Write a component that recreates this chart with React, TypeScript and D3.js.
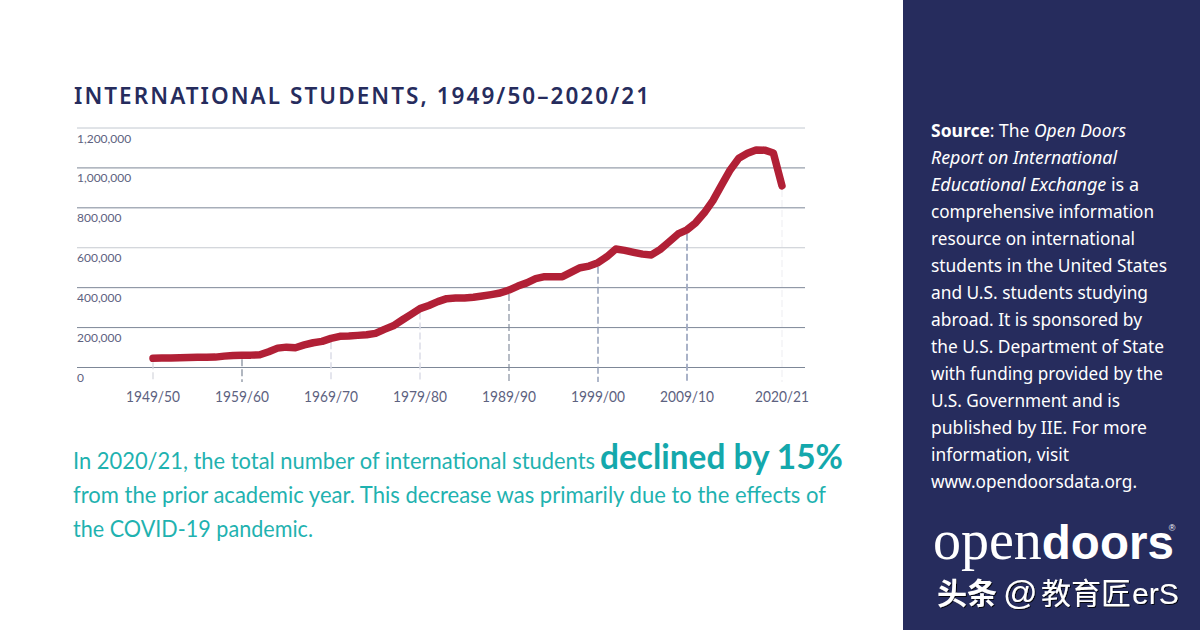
import React from "react";
import * as d3 from "d3";

const years = d3.range(1949, 2021);
const students = [
  46000, 47000, 48000, 49000, 50000, 51000, 51500, 52000, 57000, 60000,
  61000, 62000, 64000, 79000, 97000, 102000, 99000, 113000, 124000, 131000,
  146000, 156000, 158000, 161000, 164000, 171000, 191000, 209000, 238000, 266000,
  295000, 311000, 330000, 345000, 348000, 348000, 352000, 358000, 365000, 373000,
  388000, 408000, 424000, 445000, 455000, 455000, 455000, 478000, 500000, 508000,
  525000, 555000, 594000, 587000, 577000, 568000, 564000, 592000, 630000, 669000,
  690000, 725000, 775000, 836000, 914000, 990000, 1048000, 1073000, 1090000, 1089000,
  1075000, 910000,
];
const yTicks = [0, 200000, 400000, 600000, 800000, 1000000, 1200000];
const gridColors = ["#7d8797", "#7d8797", "#7d8797", "#c6cad0", "#7d8797", "#7d8797", "#c2c8d0"];
const xTickYears = [1949, 1959, 1969, 1979, 1989, 1999, 2009, 2020];
const xTickLabels = ["1949/50", "1959/60", "1969/70", "1979/80", "1989/90", "1999/00", "2009/10", "2020/21"];
const dropColors = ["#d4d6dc", "#7d8797", "#dcdde8", "#dcdde8", "#7d8797", "#8e9ab4", "#a0aac2", "#f0f0f4"];
const dropWidths = [1.2, 1.2, 1.5, 1.5, 1.1, 1.4, 1.8, 1.2];
const titleText = "INTERNATIONAL STUDENTS, 1949/50–2020/21";
const sidebarLines: [string, string, string, string][] = [
  ["Source", ": The ", "Open Doors", ""],
  ["", "", "Report on International", ""],
  ["", "", "Educational Exchange", " is a"],
  ["", "comprehensive information", "", ""],
  ["", "resource on international", "", ""],
  ["", "students in the United States", "", ""],
  ["", "and U.S. students studying", "", ""],
  ["", "abroad. It is sponsored by", "", ""],
  ["", "the U.S. Department of State", "", ""],
  ["", "with funding provided by the", "", ""],
  ["", "U.S. Government and is", "", ""],
  ["", "published by IIE. For more", "", ""],
  ["", "information, visit", "", ""],
  ["", "www.opendoorsdata.org.", "", ""],
];
const sidebarWidths = [195, 186, 208, 223, 204, 236, 217, 211, 233, 232, 189, 216, 138, 206];
const noteLine1 = "In 2020/21, the total number of international students";
const noteEmphasis = "declined by 15%";
const noteLine2 = "from the prior academic year. This decrease was primarily due to the effects of";
const noteLine3 = "the COVID-19 pandemic.";

const W = 1200;
const H = 630;
const x = d3.scaleLinear().domain([1949, 2009, 2020]).range([153, 687, 782]);
const y = d3.scaleLinear().domain([0, 1200000]).range([367.5, 128]);
const line = d3
  .line<number>()
  .x((_, i) => x(years[i]))
  .y((d) => y(d));
const labelFont = "Lato, 'Noto Sans', sans-serif";
const bodyFont = "'Noto Sans', 'Open Sans', sans-serif";

export default function App() {
  return (
    <div style={{ position: "absolute", left: 0, top: 0, width: W, height: H, overflow: "hidden" }}>
      <svg width={W} height={H} style={{ display: "block" }}>
        <defs>
          <filter id="wm" x="-5%" y="-20%" width="110%" height="140%">
            <feDropShadow dx="1" dy="1" stdDeviation="0.7" floodColor="#000" floodOpacity="0.85" />
          </filter>
        </defs>
        <rect width={W} height={H} fill="#ffffff" />
        <text x={74} y={104} fontFamily="'Noto Sans', sans-serif" fontWeight={600} fontSize={22.5} letterSpacing={2.05} fill="#262c5d">
          {titleText}
        </text>

        {yTicks.map((t, i) => (
          <g key={t}>
            <line x1={77} x2={805} y1={y(t)} y2={y(t)} stroke={gridColors[i]} strokeWidth={1} />
            <text x={77} y={y(t) + 14.5} fontFamily={labelFont} fontSize={12} fill="#5d6280">
              {d3.format(",")(t)}
            </text>
          </g>
        ))}

        {xTickYears.map((yr, i) => (
          <g key={yr}>
            <line
              x1={x(yr)}
              x2={x(yr)}
              y1={y(students[years.indexOf(yr)]) + 4}
              y2={382}
              stroke={dropColors[i]}
              strokeWidth={dropWidths[i]}
              strokeDasharray="7 3"
            />
            <text
              x={x(yr)}
              y={402}
              textAnchor="middle"
              fontFamily={labelFont}
              fontSize={15}
              textLength={54}
              lengthAdjust="spacingAndGlyphs"
              fill="#5d6280"
            >
              {xTickLabels[i]}
            </text>
          </g>
        ))}

        <path
          d={line(students) ?? ""}
          fill="none"
          stroke="#b12036"
          strokeWidth={7.5}
          strokeLinejoin="round"
          strokeLinecap="round"
        />

        <g fontFamily={labelFont} fill="#1fb2b0" fontSize={23.5}>
          <text x={73} y={469} textLength={522} lengthAdjust="spacingAndGlyphs">{noteLine1}</text>
          <text x={600} y={469} textLength={243} lengthAdjust="spacingAndGlyphs" fontSize={34} fontWeight={700} fill="#14a8ac">
            {noteEmphasis}
          </text>
          <text x={73} y={503} textLength={753} lengthAdjust="spacingAndGlyphs">{noteLine2}</text>
          <text x={73} y={537} textLength={240} lengthAdjust="spacingAndGlyphs">{noteLine3}</text>
        </g>

        <rect x={903} y={0} width={297} height={630} fill="#262c5d" />
        <g fontFamily={bodyFont} fontSize={17.4} fill="#ffffff">
          {sidebarLines.map(([bold, plain, italic, tail], i) => (
            <text key={i} x={931} y={137 + i * 27} textLength={sidebarWidths[i]} lengthAdjust="spacingAndGlyphs">
              {bold && <tspan fontWeight={700}>{bold}</tspan>}
              {plain && <tspan>{plain}</tspan>}
              {italic && <tspan fontStyle="italic">{italic}</tspan>}
              {tail && <tspan>{tail}</tspan>}
            </text>
          ))}
        </g>

        <text x={933} y={559} fill="#ffffff" fontSize={56}>
          <tspan fontFamily="'Liberation Serif', serif">open</tspan>
          <tspan fontFamily="'Liberation Sans', sans-serif" fontWeight={700} fontSize={47.5}>doors</tspan>
          <tspan fontFamily="'Liberation Sans', sans-serif" fontSize={9} dx={-5} dy={-28}>®</tspan>
        </text>
        <text x={937} y={604} fill="#ffffff" fontSize={30} fontFamily="'Noto Sans CJK SC', sans-serif" filter="url(#wm)">
          <tspan fontWeight={700}>头条</tspan>
          <tspan x={1003} fontFamily="'Liberation Sans', sans-serif" fontSize={34}>@</tspan>
          <tspan x={1041}>教育匠</tspan>
          <tspan x={1132} fontFamily="'Liberation Sans', sans-serif">erS</tspan>
        </text>
      </svg>
    </div>
  );
}
